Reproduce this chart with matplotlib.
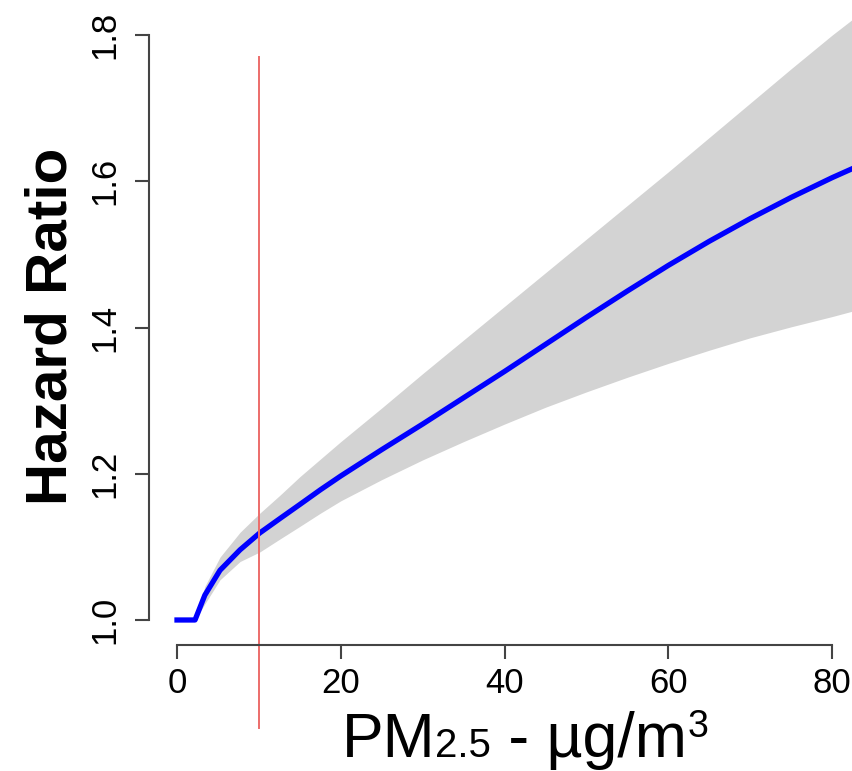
import numpy as np
import matplotlib
matplotlib.use("Agg")
from matplotlib import pyplot as plt

plt.rcParams['font.family'] = ['Liberation Sans', 'DejaVu Sans']

# curva hazard ratio vs PM2.5
pm = [0, 2.2, 3.4, 5.25, 7.7, 10.1, 12.6, 15, 17.5, 20, 25, 30, 35, 40, 45, 50,
      55, 60, 65, 70, 75, 80, 83]
hr = [1.0, 1.0, 1.034, 1.068, 1.096, 1.119, 1.139, 1.158, 1.178, 1.197, 1.233, 1.268,
      1.304, 1.340, 1.377, 1.414, 1.450, 1.485, 1.518, 1.549, 1.578, 1.605, 1.62]
# intervalo de confianza
hr_low = [1.0, 1.0, 1.022, 1.055, 1.080, 1.093, 1.111, 1.128, 1.146, 1.163, 1.192, 1.219,
          1.244, 1.268, 1.291, 1.312, 1.332, 1.351, 1.369, 1.386, 1.401, 1.415, 1.424]
hr_up = [1.0, 1.0, 1.046, 1.086, 1.12, 1.146, 1.171, 1.196, 1.22, 1.244, 1.29, 1.337,
         1.383, 1.429, 1.475, 1.521, 1.567, 1.613, 1.66, 1.707, 1.754, 1.80, 1.826]

xticks = [0, 20, 40, 60, 80]
yticks = [1.0, 1.2, 1.4, 1.6, 1.8]
guia = 10  # linea de referencia

W, H = 853, 771
fig = plt.figure(figsize=(W / 100, H / 100), dpi=100)
ax = fig.add_axes([149 / W, 126 / H, 1 - 149 / W, 1 - 126 / H])
ax.set_xlim(-3.42, 82.55)
ax.set_ylim(0.9658, 1.848)

ax.fill_between(pm, hr_low, hr_up, color='#d3d3d3', lw=0)
ax.plot(pm, hr, color='#0000ff', lw=3.8)
ax.axvline(guia, ymin=-0.129, ymax=0.9116, color='#ec6c6a', lw=1.4, clip_on=False)

# ejes estilo R
for s in ['top', 'right']:
    ax.spines[s].set_visible(False)
ax.spines['left'].set_bounds(yticks[0], yticks[-1])
ax.spines['bottom'].set_bounds(xticks[0], xticks[-1])
for s in ['left', 'bottom']:
    ax.spines[s].set_color('#444444')
    ax.spines[s].set_linewidth(1.5)
ax.set_xticks(xticks)
ax.set_xticklabels([str(t) for t in xticks])
ax.set_yticks(yticks)
ax.set_yticklabels(['%.1f' % t for t in yticks])
ax.tick_params(axis='both', length=10, width=1.5, color='#444444', labelsize=25)
ax.tick_params(axis='x', pad=6)
ax.tick_params(axis='y', pad=10, labelrotation=90)
for lab in ax.get_yticklabels():
    lab.set_va('center')

fig.text(52 / W, 1 - 326 / H, 'Hazard Ratio', rotation=90, ha='center', va='center',
         fontsize=42, fontweight='bold')

# etiqueta x por partes: PM 2.5 - ug/m 3
partes = [('PM', 45, 0), ('2.5', 29, 0), (' - \u00b5g/m', 45, 0), ('3', 27, 20)]
r = fig.canvas.get_renderer()
base = 1 - 757 / H
textos = []
x0 = 0
for txt, fs, dy in partes:
    t = fig.text(x0, base + dy / H, txt, fontsize=fs, ha='left', va='baseline')
    bb = t.get_window_extent(renderer=r)
    x0 = x0 + bb.width / W
    textos.append(t)
ancho = x0
inicio = 525 / W - ancho / 2
for t in textos:
    px, py = t.get_position()
    t.set_position((px + inicio, py))

fig.savefig('out.png', dpi=100)
